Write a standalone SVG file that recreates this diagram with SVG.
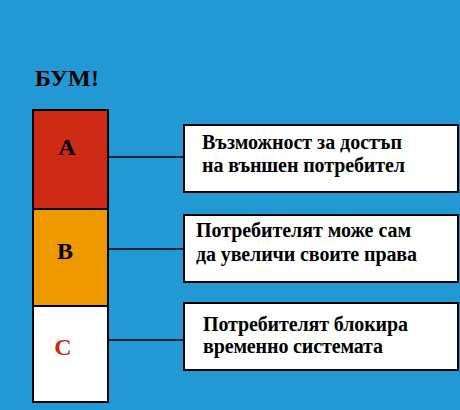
<svg xmlns="http://www.w3.org/2000/svg" width="460" height="410" viewBox="0 0 460 410">
<style>
.blk{stroke:#000;stroke-width:2}
.lbl{font-family:"Liberation Serif","Times New Roman",serif;font-weight:bold;fill:#000}
.big{font-size:24px}
.txt{font-size:20px}
.con{stroke:#000;stroke-width:1.5;fill:none}
</style>
<rect x="0" y="0" width="460" height="410" fill="#2299D5"/>
<text class="lbl big" x="35" y="86" textLength="64">БУМ!</text>
<g id="nodeA"><rect class="blk" x="33" y="110" width="75" height="99" fill="#CC2A14"/><text class="lbl big" x="67" y="155" text-anchor="middle">A</text></g>
<g id="nodeB"><rect class="blk" x="33" y="209" width="75" height="97" fill="#EE9900"/><text class="lbl big" x="65" y="259" text-anchor="middle">B</text></g>
<g id="nodeC"><rect class="blk" x="33" y="306" width="75" height="96" fill="#FFFFFF"/><text class="lbl big" x="63" y="355" text-anchor="middle" style="fill:#CC2A14">C</text></g>
<g id="box1"><rect class="blk" x="184" y="125" width="274" height="67" fill="#FFFFFF"/><text class="lbl txt" x="202" y="149" textLength="200">Възможност за достъп</text><text class="lbl txt" x="202" y="172" textLength="203">на външен потребител</text></g>
<g id="box2"><rect class="blk" x="184" y="215" width="274" height="67" fill="#FFFFFF"/><text class="lbl txt" x="196" y="237" textLength="215">Потребителят може сам</text><text class="lbl txt" x="196" y="261" textLength="221">да увеличи своите права</text></g>
<g id="box3"><rect class="blk" x="184" y="303" width="274" height="67" fill="#FFFFFF"/><text class="lbl txt" x="203" y="331" textLength="205">Потребителят блокира</text><text class="lbl txt" x="203" y="353" textLength="180">временно системата</text></g>
<g id="connectors">
<line class="con" x1="108" y1="157" x2="184" y2="157"/>
<line class="con" x1="108" y1="249" x2="184" y2="249"/>
<line class="con" x1="108" y1="340" x2="184" y2="340"/>
</g>
</svg>
